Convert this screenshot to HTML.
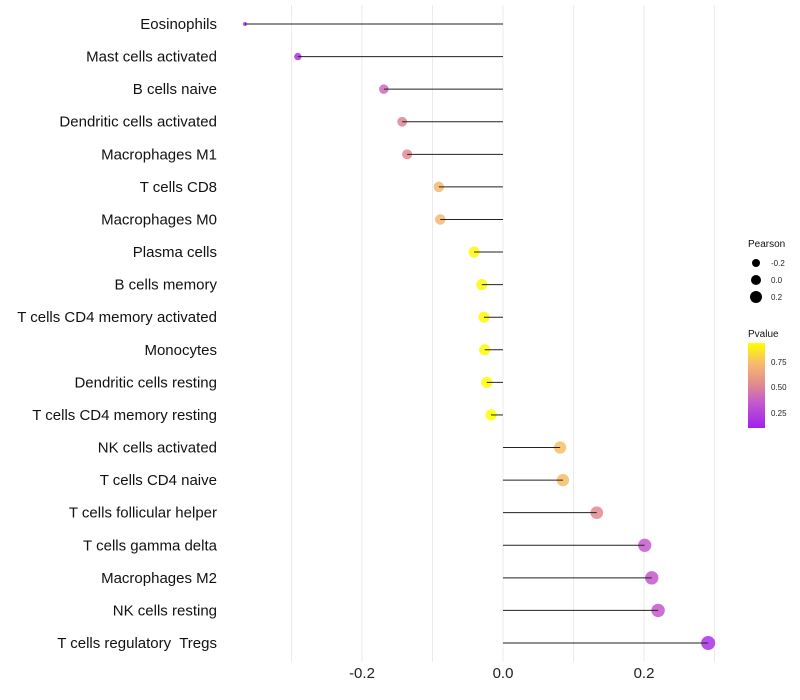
<!DOCTYPE html>
<html><head><meta charset="utf-8"><style>
body{margin:0;background:#fff;font-family:"Liberation Sans",sans-serif}
svg{display:block}
#ylabels text{white-space:pre}
</style></head><body>
<svg id="chart" width="800" height="700">
<g id="grid"></g>
<g id="marks"></g>
<g id="ylabels"></g>
<g id="xlabels"></g>
<g>
<text x="748" y="247" font-size="10" fill="#111">Pearson</text>
<circle cx="756" cy="263" r="4" fill="#000"/>
<text x="771" y="266" font-size="8" fill="#222">-0.2</text>
<circle cx="756" cy="280" r="5" fill="#000"/>
<text x="771" y="283" font-size="8" fill="#222">0.0</text>
<circle cx="756" cy="297" r="6" fill="#000"/>
<text x="771" y="300" font-size="8" fill="#222">0.2</text>
</g>
<g>
<defs><linearGradient id="pg" x1="0" y1="1" x2="0" y2="0">
<stop offset="0" stop-color="#a020f0"/><stop offset="0.33" stop-color="#c860c8"/><stop offset="0.5" stop-color="#e08890"/><stop offset="0.75" stop-color="#f5b870"/><stop offset="1" stop-color="#ffff00"/>
</linearGradient></defs>
<text x="748" y="337" font-size="10" fill="#111">Pvalue</text>
<rect x="748" y="343" width="17" height="85" fill="url(#pg)"/>
<text x="771" y="365" font-size="8" fill="#222">0.75</text>
<text x="771" y="390" font-size="8" fill="#222">0.50</text>
<text x="771" y="416" font-size="8" fill="#222">0.25</text>
</g>
</svg>
<script>
const categories=["Eosinophils","Mast cells activated","B cells naive","Dendritic cells activated","Macrophages M1","T cells CD8","Macrophages M0","Plasma cells","B cells memory","T cells CD4 memory activated","Monocytes","Dendritic cells resting","T cells CD4 memory resting","NK cells activated","T cells CD4 naive","T cells follicular helper","T cells gamma delta","Macrophages M2","NK cells resting","T cells regulatory  Tregs"];
const pearson=[-0.366,-0.291,-0.169,-0.143,-0.136,-0.091,-0.089,-0.041,-0.030,-0.027,-0.026,-0.023,-0.017,0.081,0.085,0.133,0.201,0.211,0.220,0.291];
const pvalues=[0.14,0.16,0.40,0.50,0.52,0.72,0.72,0.92,0.92,0.92,0.92,0.93,0.94,0.75,0.74,0.52,0.34,0.33,0.33,0.16];
const xTicks=[-0.2,0.0,0.2];
const xTickLabels=["-0.2","0.0","0.2"];
const gridVals=[-0.3,-0.2,-0.1,0,0.1,0.2,0.3];

const NS="http://www.w3.org/2000/svg";
const x=v=>503+v*705;
const y=i=>24+i*(643-24)/(categories.length-1);
const r=v=>2+5*Math.sqrt(Math.max(0,(v+0.366)/0.657));
function hex(c){return [1,3,5].map(k=>parseInt(c.substr(k,2),16));}
const stops=[[0,"#a020f0"],[0.33,"#c860c8"],[0.5,"#e08890"],[0.75,"#f5b870"],[1,"#ffff00"]];
function col(p){let t=(p-0.08)/(0.94-0.08);t=Math.max(0,Math.min(1,t));
for(let k=1;k<stops.length;k++){if(t<=stops[k][0]){const a=hex(stops[k-1][1]),b=hex(stops[k][1]);const u=(t-stops[k-1][0])/(stops[k][0]-stops[k-1][0]);return "rgb("+a.map((v,j)=>Math.round(v+(b[j]-v)*u)).join(",")+")";}}return stops[4][1];}
function mk(tag,attrs,parent){const e=document.createElementNS(NS,tag);for(const k in attrs)e.setAttribute(k,attrs[k]);parent.appendChild(e);return e;}
const grid=document.getElementById('grid'),marks=document.getElementById('marks'),yl=document.getElementById('ylabels'),xl=document.getElementById('xlabels');
gridVals.forEach(g=>{const l=mk('line',{x1:x(g),x2:x(g),y1:5,y2:662,stroke:'#ebebeb','stroke-width':1},grid);

});
categories.forEach((c,i)=>{
const d=mk('circle',{cx:x(pearson[i]),cy:y(i),r:r(pearson[i]),fill:col(pvalues[i]),'fill-opacity':0.85},marks);


const s=mk('line',{x1:x(0),x2:x(pearson[i]),y1:y(i),y2:y(i),stroke:'#222','stroke-width':1},marks);


const t=mk('text',{x:217,y:y(i)+5,'text-anchor':'end','font-size':15,fill:'#111'},yl);
t.textContent=c;


});
xTicks.forEach((v,i)=>{const t=mk('text',{x:x(v),y:678,'text-anchor':'middle','font-size':15,fill:'#222'},xl);
t.textContent=xTickLabels[i];

});
</script>
</body></html>
